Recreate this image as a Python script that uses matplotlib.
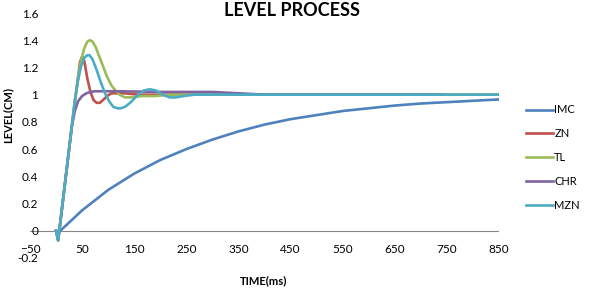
import matplotlib
matplotlib.use("Agg")
import matplotlib.pyplot as plt

plt.rcParams['font.family'] = ['Lato', 'DejaVu Sans']

# IMC
t_imc = [8, 50, 100, 150, 200, 250, 300, 350, 400, 450, 500, 550, 600, 650, 700, 750, 800, 850]
v_imc = [0, 0.15, 0.30, 0.42, 0.52, 0.60, 0.67, 0.73, 0.78, 0.82, 0.85, 0.88, 0.90, 0.92, 0.935, 0.945, 0.955, 0.965]

# ZN
t_zn = [0, 4, 10, 20, 30, 36, 42, 46, 50, 54, 60, 66, 72, 78, 84, 90, 98, 106, 115, 130, 160, 200, 300, 400, 500, 600, 740, 850]
v_zn = [0, -0.07, 0.12, 0.44, 0.76, 0.95, 1.12, 1.24, 1.28, 1.25, 1.12, 1.02, 0.96, 0.94, 0.94, 0.96, 0.99, 1.01, 1.01, 1.01, 1.0, 1.0, 1.0, 1.0, 1.0, 1.0, 1.0, 1.0]

# TL
t_tl = [0, 4, 10, 20, 30, 36, 42, 48, 54, 60, 65, 70, 76, 82, 90, 98, 106, 114, 122, 132, 145, 165, 190, 220, 260, 350, 500, 850]
v_tl = [0, -0.07, 0.12, 0.44, 0.76, 0.95, 1.12, 1.25, 1.34, 1.39, 1.40, 1.39, 1.35, 1.29, 1.21, 1.13, 1.07, 1.03, 1.00, 0.98, 0.98, 0.99, 0.99, 1.0, 1.0, 1.0, 1.0, 1.0]

# CHR
t_chr = [0, 4, 10, 20, 30, 36, 42, 50, 58, 66, 75, 90, 120, 200, 300, 350, 400, 500, 740]
v_chr = [0, -0.07, 0.12, 0.44, 0.76, 0.88, 0.95, 0.99, 1.01, 1.02, 1.025, 1.025, 1.025, 1.02, 1.02, 1.01, 1.0, 1.0, 1.0]

# MZN
t_mzn = [0, 4, 10, 20, 30, 36, 42, 48, 54, 60, 64, 70, 78, 86, 94, 102, 110, 118, 124, 132, 142, 155, 168, 180, 192, 205, 218, 230, 245, 265, 300, 400, 600, 850]
v_mzn = [0, -0.07, 0.12, 0.44, 0.76, 0.95, 1.10, 1.21, 1.27, 1.29, 1.29, 1.26, 1.18, 1.09, 1.01, 0.95, 0.91, 0.90, 0.90, 0.91, 0.94, 0.99, 1.03, 1.04, 1.03, 1.00, 0.98, 0.98, 0.99, 1.0, 1.0, 1.0, 1.0, 1.0]

x_ticks = [-50, 50, 150, 250, 350, 450, 550, 650, 750, 850]
y_ticks = [-0.2, 0, 0.2, 0.4, 0.6, 0.8, 1, 1.2, 1.4, 1.6]
y_tick_labels = ["-0.2", "0", "0.2", "0.4", "0.6", "0.8", "1", "1.2", "1.4", "1.6"]

fig = plt.figure(figsize=(5.91, 2.92), dpi=100)
ax = fig.add_axes([30 / 591, 1 - 258 / 292, 469 / 591, 245 / 292])

ax.axhline(0, color="#868686", lw=0.8, zorder=1)

lw = 1.9
ax.plot(t_imc, v_imc, color="#4F81BD", lw=lw, label="IMC")
ax.plot(t_zn, v_zn, color="#C0504D", lw=lw, label="ZN")
ax.plot(t_tl, v_tl, color="#9BBB59", lw=lw, label="TL")
ax.plot(t_chr, v_chr, color="#8064A2", lw=lw, label="CHR")
ax.plot(t_mzn, v_mzn, color="#4BACC6", lw=lw, label="MZN")

ax.set_xlim(-50, 850)
ax.set_ylim(-0.2, 1.6)
ax.set_xticks(x_ticks)
ax.set_yticks(y_ticks)
ax.set_yticklabels(y_tick_labels)
for s in ax.spines.values():
    s.set_visible(False)
ax.tick_params(axis="both", length=0, labelsize=8.5)
ax.tick_params(axis="y", pad=-6)
ax.tick_params(axis="x", pad=-10)

fig.text(292 / 591, 1 - 10 / 292, "LEVEL PROCESS", ha="center", va="center",
         fontsize=13, fontweight="bold")
fig.text(8 / 591, 1 - 115 / 292, "LEVEL(CM)", ha="center", va="center",
         rotation=90, fontsize=8, fontweight="bold")
fig.text(264 / 591, 1 - 281 / 292, "TIME(ms)", ha="center", va="center",
         fontsize=8, fontweight="bold")

fig.legend(loc="upper left", bbox_to_anchor=(522 / 591, 1 - 100 / 292),
           frameon=False, fontsize=8, handlelength=2.4, handletextpad=0.1,
           labelspacing=1.15, borderaxespad=0)

fig.savefig("out.png", dpi=100)
